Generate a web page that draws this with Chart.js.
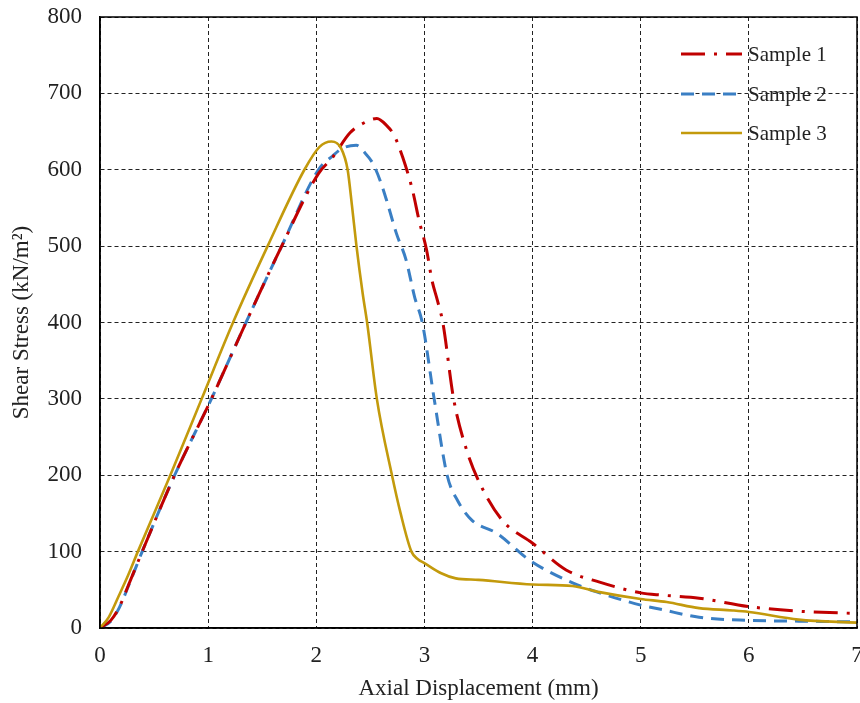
<!DOCTYPE html>
<html>
<head>
<meta charset="utf-8">
<script src="https://cdn.jsdelivr.net/npm/chart.js@4.4.1/dist/chart.umd.min.js"></script>
<style>
  html, body { margin: 0; padding: 0; background: #fff; }
  #chart { display: block; }
</style>
</head>
<body>
<canvas id="chart" width="860" height="703"></canvas>
<script>
// Sample 1 (red, dash-dot)
const sample1X = [0, 0.1, 0.18, 0.26, 0.39, 0.69, 1.03, 1.35, 1.68, 2.02, 2.15, 2.31, 2.45, 2.56, 2.65, 2.72, 2.8, 2.89, 2.95, 3.02, 3.07, 3.12, 3.17, 3.27, 3.39, 3.51, 3.72, 4.0, 4.31, 4.62, 5.0, 5.2, 5.54, 6.0, 6.46, 7.0];
const sample1Y = [0, 10, 28, 55, 100, 200, 300, 400, 500, 595, 616, 648, 662, 667, 658, 645, 616, 573, 534, 495, 455, 429, 400, 300, 233, 190, 141, 111, 76, 60, 46, 43, 39, 28, 22, 19];

// Sample 2 (blue, dashed)
const sample2X = [0, 0.1, 0.18, 0.26, 0.39, 0.69, 1.03, 1.35, 1.68, 2.02, 2.15, 2.24, 2.37, 2.45, 2.52, 2.59, 2.65, 2.74, 2.83, 2.91, 2.98, 3.09, 3.21, 3.31, 3.44, 3.67, 3.97, 4.37, 4.62, 5.0, 5.2, 5.54, 6.0, 6.46, 7.0];
const sample2Y = [0, 9, 27, 54, 100, 200, 300, 400, 500, 600, 618, 628, 632, 622, 609, 586, 560, 517, 482, 433, 400, 300, 200, 166, 141, 124, 89, 59, 46, 30, 24, 14, 10, 9, 8];

// Sample 3 (gold, solid)
const sample3X = [0, 0.08, 0.17, 0.26, 0.35, 0.65, 0.94, 1.23, 1.55, 1.89, 2.03, 2.14, 2.23, 2.29, 2.33, 2.37, 2.43, 2.47, 2.56, 2.7, 2.78, 2.88, 2.94, 3.0, 3.15, 3.29, 3.5, 4.0, 4.37, 4.62, 5.0, 5.24, 5.54, 5.85, 6.0, 6.46, 7.0];
const sample3Y = [0, 14, 41, 69, 100, 200, 300, 400, 500, 600, 630, 637, 628, 600, 553, 502, 437, 400, 300, 200, 150, 100, 90, 85, 72, 65, 63, 57, 55, 47, 38, 34, 26, 23, 21, 11, 7];

const seriesNames = ['Sample 1', 'Sample 2', 'Sample 3'];
const xTitle = 'Axial Displacement (mm)';
const yTitle = 'Shear Stress (kN/m\u00b2)';

function toPoints(xs, ys) {
    return xs.map((x, i) => ({ x: x, y: ys[i] }));
}

const serif = "'Liberation Serif', 'Times New Roman', serif";

// Legend drawn inside the plot area, top right
const legendPlugin = {
    id: 'innerLegend',
    afterDraw(chart) {
        const ctx = chart.ctx;
        const area = chart.chartArea;
        const x0 = area.right - 176;
        const x1 = area.right - 115;
        const rows = [54, 94, 133];
        ctx.save();
        chart.data.datasets.forEach((ds, i) => {
            const y = rows[i];
            ctx.beginPath();
            ctx.setLineDash(ds.borderDash || []);
            ctx.strokeStyle = ds.borderColor;
            ctx.lineWidth = ds.borderWidth;
            ctx.moveTo(x0, y);
            ctx.lineTo(x1, y);
            ctx.stroke();
            ctx.setLineDash([]);
            ctx.fillStyle = '#222';
            ctx.font = '21px ' + serif;
            ctx.textAlign = 'left';
            ctx.textBaseline = 'middle';
            ctx.fillText(ds.label, x1 + 6, y + 1);
        });
        ctx.restore();
    }
};

// Solid frame round the plot area
const framePlugin = {
    id: 'frame',
    afterDatasetsDraw(chart) {
        const ctx = chart.ctx;
        const a = chart.chartArea;
        ctx.save();
        ctx.strokeStyle = '#000';
        ctx.lineWidth = 1.5;
        ctx.strokeRect(a.left, a.top, a.right - a.left, a.bottom - a.top);
        ctx.restore();
    }
};

const ctx = document.getElementById('chart').getContext('2d');
new Chart(ctx, {
    type: 'line',
    data: {
        datasets: [
            {
                label: seriesNames[0],
                data: toPoints(sample1X, sample1Y),
                borderColor: '#c00000',
                borderWidth: 3,
                borderDash: [24, 9, 3, 9],
                order: 1
            },
            {
                label: seriesNames[1],
                data: toPoints(sample2X, sample2Y),
                borderColor: '#3a7fc4',
                borderWidth: 3,
                borderDash: [13, 8],
                order: 2
            },
            {
                label: seriesNames[2],
                data: toPoints(sample3X, sample3Y),
                borderColor: '#c39a0c',
                borderWidth: 2.6,
                order: 0
            }
        ]
    },
    options: {
        responsive: false,
        animation: false,
        layout: { padding: { top: 17, right: 3, bottom: 0, left: 0 } },
        elements: {
            point: { radius: 0 },
            line: { cubicInterpolationMode: 'monotone', fill: false }
        },
        plugins: {
            legend: { display: false },
            tooltip: { enabled: false }
        },
        scales: {
            x: {
                type: 'linear',
                min: 0,
                max: 7,
                ticks: {
                    stepSize: 1,
                    padding: 14,
                    color: '#222',
                    font: { family: serif, size: 23 }
                },
                grid: {
                    color: '#222',
                    lineWidth: 1,
                    drawTicks: false
                },
                border: { display: true, color: '#000', width: 1.5, dash: [4, 3] },
                title: {
                    display: true,
                    text: xTitle,
                    color: '#222',
                    font: { family: serif, size: 23 },
                    padding: { top: 0, bottom: 0 }
                },
                afterFit(scale) {
                    scale.height = 75;
                    scale.paddingLeft = 0;
                    scale.paddingRight = 0;
                }
            },
            y: {
                min: 0,
                max: 800,
                ticks: {
                    stepSize: 100,
                    padding: 18,
                    color: '#222',
                    font: { family: serif, size: 23 }
                },
                grid: {
                    color: '#222',
                    lineWidth: 1,
                    drawTicks: false
                },
                border: { display: true, color: '#000', width: 1.5, dash: [4, 3] },
                title: {
                    display: true,
                    text: yTitle,
                    color: '#222',
                    font: { family: serif, size: 23 },
                    padding: { top: 8, bottom: 0 }
                },
                afterFit(scale) {
                    scale.width = 100;
                    scale.paddingTop = 0;
                    scale.paddingBottom = 0;
                }
            }
        }
    },
    plugins: [framePlugin, legendPlugin]
});
</script>
</body>
</html>
